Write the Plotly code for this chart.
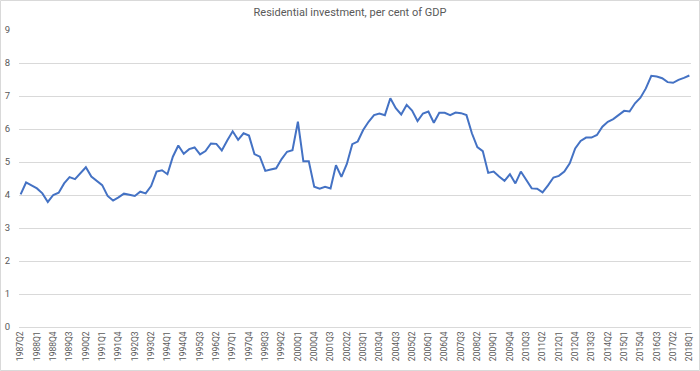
import plotly.graph_objects as go

start_year, start_q = 1987, 2
n = 124
quarters = []
y, q = start_year, start_q
for _ in range(n):
    quarters.append(f"{y}Q{q}")
    q += 1
    if q > 4:
        q = 1
        y += 1

values = [
    4.02, 4.38, 4.29, 4.20, 4.05, 3.79, 4.00, 4.07, 4.35, 4.54,
    4.48, 4.67, 4.84, 4.56, 4.43, 4.30, 3.97, 3.83, 3.93, 4.04,
    4.01, 3.97, 4.10, 4.05, 4.27, 4.71, 4.75, 4.63, 5.16, 5.50,
    5.25, 5.39, 5.44, 5.23, 5.33, 5.56, 5.55, 5.35, 5.65, 5.93,
    5.67, 5.87, 5.80, 5.24, 5.16, 4.73, 4.77, 4.81, 5.09, 5.31,
    5.36, 6.22, 5.02, 5.02, 4.25, 4.19, 4.25, 4.20, 4.90, 4.55,
    4.94, 5.54, 5.62, 5.97, 6.22, 6.42, 6.47, 6.42, 6.93, 6.63,
    6.44, 6.73, 6.56, 6.24, 6.47, 6.53, 6.19, 6.49, 6.49, 6.42,
    6.50, 6.48, 6.42, 5.87, 5.45, 5.33, 4.67, 4.71, 4.56, 4.43,
    4.63, 4.35, 4.71, 4.45, 4.20, 4.19, 4.08, 4.29, 4.53, 4.58,
    4.71, 4.96, 5.41, 5.64, 5.74, 5.74, 5.82, 6.07, 6.22, 6.30,
    6.42, 6.55, 6.53, 6.78, 6.95, 7.23, 7.61, 7.59, 7.54, 7.42,
    7.40, 7.49, 7.55, 7.62,
]

tick_labels = quarters[::3]
y_ticks = list(range(0, 10))

FONT = "Roboto, sans-serif"
GRAY = "#595959"

fig = go.Figure()
fig.add_trace(go.Scatter(
    x=quarters, y=values, mode="lines",
    line=dict(color="#4472C4", width=2),
    showlegend=False,
))

fig.update_layout(
    width=700, height=371,
    margin=dict(l=19, r=9, t=30, b=44),
    paper_bgcolor="white", plot_bgcolor="white",
    title=dict(text="Residential investment, per cent of GDP",
               x=0.5, xanchor="center", y=0.968, yanchor="middle",
               font=dict(family=FONT, size=11, color=GRAY)),
    xaxis=dict(
        type="category", categoryorder="array", categoryarray=quarters,
        range=[-0.3, n - 1 + 0.3], automargin=False,
        tickmode="array", tickvals=tick_labels, ticktext=tick_labels,
        tickangle=-90, tickfont=dict(family=FONT, size=8.5, color=GRAY),
        showgrid=False, showline=True, linecolor="#d9d9d9", linewidth=1,
        ticks="", zeroline=False,
    ),
    yaxis=dict(
        range=[0, 9], tickmode="array", tickvals=y_ticks, automargin=False,
        tickfont=dict(family=FONT, size=9.5, color=GRAY),
        showgrid=True, gridcolor="#d9d9d9", gridwidth=1,
        zeroline=False, showline=False, ticks="",
        ticklabelstandoff=8,
    ),
    shapes=[dict(type="rect", xref="paper", yref="paper",
                 x0=-18.5 / 672, x1=1 + 8.5 / 672,
                 y0=-43.5 / 297, y1=1 + 29.5 / 297,
                 line=dict(color="#d9d9d9", width=1), fillcolor="rgba(0,0,0,0)")],
)

fig.write_html("out.html",
               config={"displayModeBar": False},
               post_script="document.body.style.margin='0';document.body.style.overflow='hidden';")
